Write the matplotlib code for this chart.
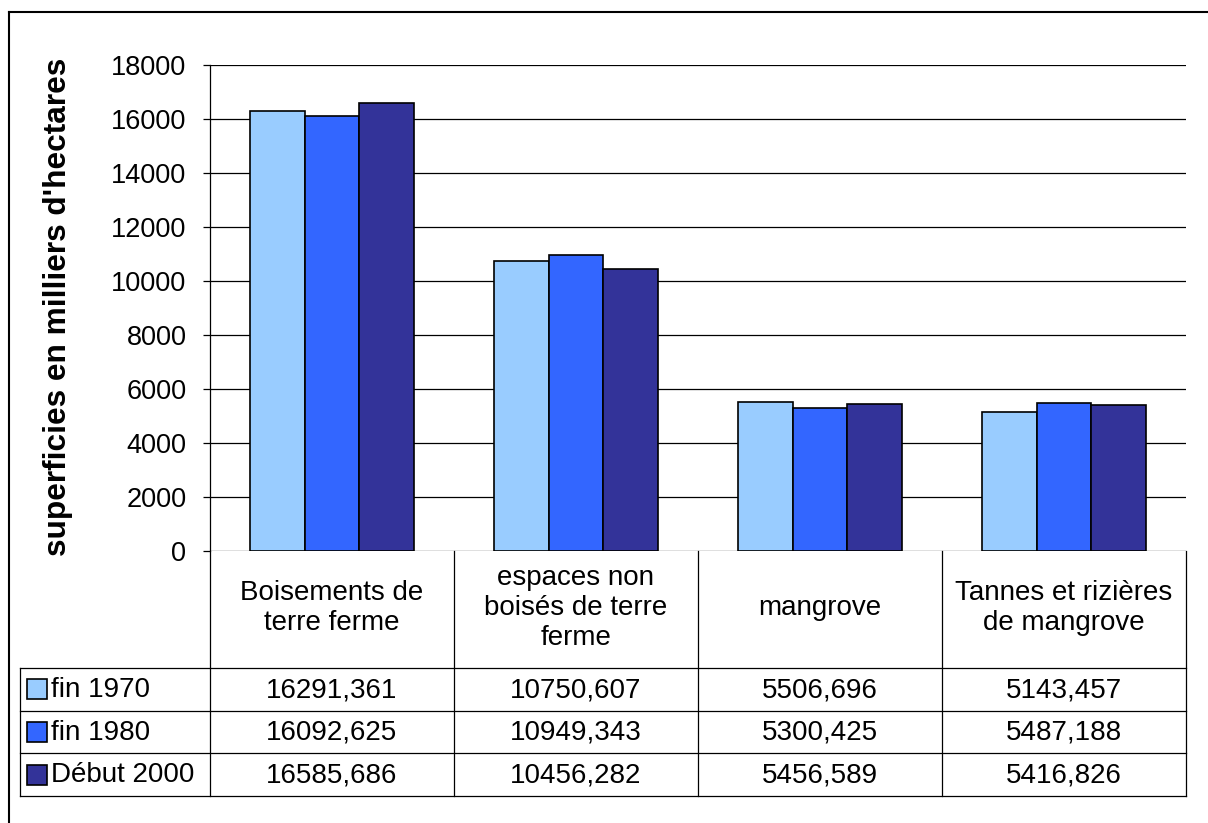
import matplotlib
matplotlib.use("Agg")
import matplotlib.pyplot as plt
import matplotlib.transforms as mtransforms
from matplotlib.patches import Rectangle
from matplotlib.lines import Line2D
import numpy as np

plt.rcParams['font.family'] = ['Liberation Sans', 'DejaVu Sans']

categories = ["Boisements de\nterre ferme", "espaces non\nboisés de terre\nferme",
              "mangrove", "Tannes et rizières\nde mangrove"]
series_names = ["fin 1970", "fin 1980", "Début 2000"]
fin_1970 = [16291.361, 10750.607, 5506.696, 5143.457]
fin_1980 = [16092.625, 10949.343, 5300.425, 5487.188]
debut_2000 = [16585.686, 10456.282, 5456.589, 5416.826]
series = [fin_1970, fin_1980, debut_2000]
colors = ["#99CCFF", "#3366FF", "#333399"]
yticks = [0, 2000, 4000, 6000, 8000, 10000, 12000, 14000, 16000, 18000]
ylabel = "superficies en milliers d'hectares"

W, H = 1208, 823
fig = plt.figure(figsize=(W / 100, H / 100), dpi=100)

def fx(x):
    return x / W

def fy(y):
    return 1 - y / H

FS = 20

ax = fig.add_axes([fx(210), fy(551), fx(1186) - fx(210), fy(65) - fy(551)])
n = len(categories)
x = np.arange(n) + 0.5
bw = 0.225
for i, (vals, c) in enumerate(zip(series, colors)):
    ax.bar(x + (i - 1) * bw, vals, width=bw, color=c, edgecolor="black",
           linewidth=1.2, zorder=3)

ax.set_xlim(0, n)
ax.set_ylim(0, 18000)
ax.set_yticks(yticks)
ax.set_yticklabels([str(t) for t in yticks], fontsize=19.5)
ax.yaxis.grid(True, color="black", linewidth=0.9, zorder=0)
ax.set_xticks([])
for s in ["top", "right", "bottom"]:
    ax.spines[s].set_visible(False)
ax.spines["left"].set_linewidth(0.9)
ax.tick_params(axis="y", length=5, width=0.9, pad=12)

fig.text(fx(58), fy(307), ylabel, rotation=90, ha="center", va="center",
         fontsize=22.8, fontweight="bold")

# table
trans = mtransforms.blended_transform_factory(ax.transData, fig.transFigure)
ytop = 551
row_edges = [668, 710.5, 753, 796]
lw = 0.9
for k in range(n + 1):
    fig.add_artist(Line2D([k, k], [fy(ytop), fy(row_edges[-1])], transform=trans,
                          color="black", linewidth=lw))
for yy in row_edges:
    fig.add_artist(Line2D([fx(20), fx(1186)], [fy(yy), fy(yy)],
                          transform=fig.transFigure, color="black", linewidth=lw))
fig.add_artist(Line2D([fx(20), fx(20)], [fy(row_edges[0]), fy(row_edges[-1])],
                      transform=fig.transFigure, color="black", linewidth=lw))

for k, cat in enumerate(categories):
    fig.text(k + 0.5, fy(608), cat, transform=trans,
             ha="center", va="center", fontsize=FS, linespacing=1.22)

for r, (name, vals, c) in enumerate(zip(series_names, series, colors)):
    yc = (row_edges[r] + row_edges[r + 1]) / 2
    fig.add_artist(Rectangle((fx(27), fy(yc + 10)), fx(20) - fx(0), fy(yc - 10) - fy(yc + 10),
                             transform=fig.transFigure, facecolor=c,
                             edgecolor="black", linewidth=1.2))
    fig.text(fx(51), fy(yc + 1), name, ha="left", va="center", fontsize=FS)
    for k, v in enumerate(vals):
        s = f"{v:.3f}".replace(".", ",")
        fig.text(k + 0.5, fy(yc + 1), s, transform=trans,
                 ha="center", va="center", fontsize=FS)

fig.add_artist(Line2D([fx(9), fx(9)], [fy(12), 0], transform=fig.transFigure,
                      color="black", linewidth=1.5))
fig.add_artist(Line2D([fx(9), 1], [fy(12), fy(12)], transform=fig.transFigure,
                      color="black", linewidth=1.5))

fig.savefig("out.png", dpi=100)
